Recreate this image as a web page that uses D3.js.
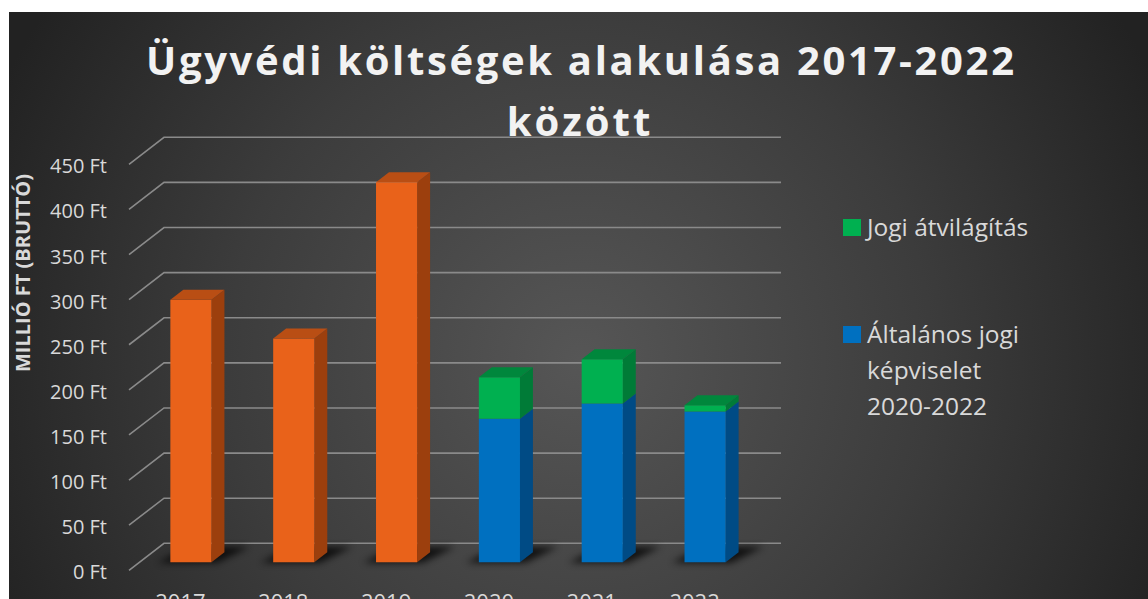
<!DOCTYPE html>
<html lang="hu">
<head>
    <meta charset="UTF-8">
    <title>Ügyvédi költségek alakulása 2017-2022 között</title>
    <script src="https://d3js.org/d3.v7.min.js"></script>
    <style>
        html, body { margin: 0; padding: 0; background: #ffffff; }
        svg { display: block; font-family: 'Open Sans', sans-serif; }
    </style>
</head>
<body>
    <svg id="canvas" width="1148" height="599"></svg>
    <script>
        // data
        const years = ['2017', '2018', '2019', '2020', '2021', '2022'];
        const costValues = [291, 248, 421, null, null, null];      // orange, no legend entry
        const generalValues = [null, null, null, 159, 176, 167];   // Általános jogi képviselet
        const reviewValues = [null, null, null, 46, 49, 7];        // Jogi átvilágítás
        const tickValues = [0, 50, 100, 150, 200, 250, 300, 350, 400, 450];
        const tickLabels = tickValues.map(d => d + ' Ft');
        const legendLabels = [['Jogi átvilágítás'], ['Általános jogi', 'képviselet', '2020-2022']];

        const W = 1148, H = 599;
        const svg = d3.select('svg');

        // background
        const defs = svg.append('defs');
        const grad = defs.append('radialGradient')
            .attr('id', 'bg')
            .attr('gradientUnits', 'userSpaceOnUse')
            .attr('cx', 580).attr('cy', 360).attr('r', 640);
        grad.append('stop').attr('offset', 0).attr('stop-color', '#565656');
        grad.append('stop').attr('offset', 0.55).attr('stop-color', '#3c3c3c');
        grad.append('stop').attr('offset', 1).attr('stop-color', '#222222');
        defs.append('filter').attr('id', 'blur')
            .attr('x', -0.5).attr('y', -1).attr('width', 2).attr('height', 3)
            .append('feGaussianBlur').attr('stdDeviation', 3.5);

        svg.append('rect').attr('width', W).attr('height', H).attr('fill', '#ffffff');
        svg.append('rect').attr('x', 9).attr('y', 12).attr('width', W - 9).attr('height', H - 12)
            .attr('fill', 'url(#bg)');

        // scales (front plane of the floor), plus oblique depth offset
        const x = d3.scaleBand().domain(years).range([129, 746]);
        const y = d3.scaleLinear().domain([0, 450]).range([570.3, 164.3]);
        const DX = 35, DY = -27;
        const d0 = 0.3, d1 = 0.67;
        const barW = x.bandwidth() * 0.4;
        const proj = (px, v, d) => [px + DX * d, y(v) + DY * d];
        const poly = d3.line().curve(d3.curveLinearClosed);

        // back wall gridlines with the side wall diagonal
        svg.append('g').selectAll('path')
            .data(tickValues)
            .join('path')
            .attr('d', t => d3.line()([[129, y(t)], proj(129, t, 1), [781, y(t) + DY]]))
            .attr('fill', 'none')
            .attr('stroke', '#8a8a8a')
            .attr('stroke-width', 1.6);

        // y tick labels
        svg.append('g').selectAll('text')
            .data(tickValues)
            .join('text')
            .attr('x', 107)
            .attr('y', t => y(t) + 2)
            .attr('dy', '0.35em')
            .attr('text-anchor', 'end')
            .attr('font-size', 20)
            .attr('fill', '#d9d9d9')
            .text((t, i) => tickLabels[i]);

        // y axis title
        svg.append('text')
            .attr('transform', 'translate(30,273) rotate(-90)')
            .attr('text-anchor', 'middle')
            .attr('font-size', 20)
            .attr('font-weight', 'bold')
            .attr('fill', '#d9d9d9')
            .text('MILLIÓ FT (BRUTTÓ)');

        // build segments from the series
        const colors = {
            cost: { front: '#e9621a', side: '#9c3f0d', top: '#b94e14' },
            general: { front: '#0070c0', side: '#004b85', top: '#005a9c' },
            review: { front: '#00b050', side: '#007b37', top: '#00873c' }
        };
        const bars = years.map((yr, i) => {
            const segs = [];
            let base = 0;
            [['cost', costValues], ['general', generalValues], ['review', reviewValues]].forEach(([k, arr]) => {
                if (arr[i] != null) {
                    segs.push({ key: k, v0: base, v1: base + arr[i] });
                    base += arr[i];
                }
            });
            const xl = x(yr) + x.bandwidth() / 2 - barW / 2;
            return { yr, xl, xr: xl + barW, segs, total: base };
        });

        // floor shadows
        svg.append('g').selectAll('path')
            .data(bars)
            .join('path')
            .attr('d', b => poly([
                proj(b.xl - 12, 0, d0 - 0.02), proj(b.xr + 6, 0, d0 - 0.02),
                proj(b.xr + 18, 0, d1 + 0.2), proj(b.xl - 2, 0, d1 + 0.2)
            ]))
            .attr('fill', '#000')
            .attr('opacity', 0.75)
            .attr('filter', 'url(#blur)');

        // bars
        const barG = svg.append('g');
        bars.forEach(b => {
            const g = barG.append('g');
            b.segs.forEach((s, j) => {
                const c = colors[s.key];
                g.append('path')
                    .attr('d', poly([proj(b.xr, s.v0, d0), proj(b.xr, s.v0, d1), proj(b.xr, s.v1, d1), proj(b.xr, s.v1, d0)]))
                    .attr('fill', c.side);
                g.append('path')
                    .attr('d', poly([proj(b.xl, s.v0, d0), proj(b.xr, s.v0, d0), proj(b.xr, s.v1, d0), proj(b.xl, s.v1, d0)]))
                    .attr('fill', c.front);
                if (j === b.segs.length - 1) {
                    g.append('path')
                        .attr('d', poly([proj(b.xl, s.v1, d0), proj(b.xr, s.v1, d0), proj(b.xr, s.v1, d1), proj(b.xl, s.v1, d1)]))
                        .attr('fill', c.top);
                }
            });
        });

        // year labels (cut by the bottom edge, as in the original)
        svg.append('g').selectAll('text')
            .data(years)
            .join('text')
            .attr('x', d => x(d) + x.bandwidth() / 2)
            .attr('y', 610)
            .attr('text-anchor', 'middle')
            .attr('font-size', 22)
            .attr('fill', '#d9d9d9')
            .text(d => d);

        // title
        svg.append('text')
            .attr('x', 580).attr('y', 75)
            .attr('text-anchor', 'middle')
            .attr('font-size', 40)
            .attr('font-weight', 'bold')
            .attr('fill', '#f2f2f2')
            .attr('textLength', 868)
            .attr('lengthAdjust', 'spacing')
            .text('Ügyvédi költségek alakulása 2017-2022');
        svg.append('text')
            .attr('x', 580).attr('y', 136)
            .attr('text-anchor', 'middle')
            .attr('font-size', 40)
            .attr('font-weight', 'bold')
            .attr('fill', '#f2f2f2')
            .attr('letter-spacing', 3)
            .text('között');

        // legend
        const legend = svg.append('g');
        const legendColors = [colors.review.front, colors.general.front];
        const legendTop = [219, 326];
        legendLabels.forEach((lines, i) => {
            legend.append('rect')
                .attr('x', 843).attr('y', legendTop[i])
                .attr('width', 18).attr('height', 17)
                .attr('fill', legendColors[i]);
            lines.forEach((ln, k) => {
                legend.append('text')
                    .attr('x', 867)
                    .attr('y', legendTop[i] + 17 + k * 36)
                    .attr('font-size', 24.5)
                    .attr('fill', '#d9d9d9')
                    .text(ln);
            });
        });
    </script>
</body>
</html>
